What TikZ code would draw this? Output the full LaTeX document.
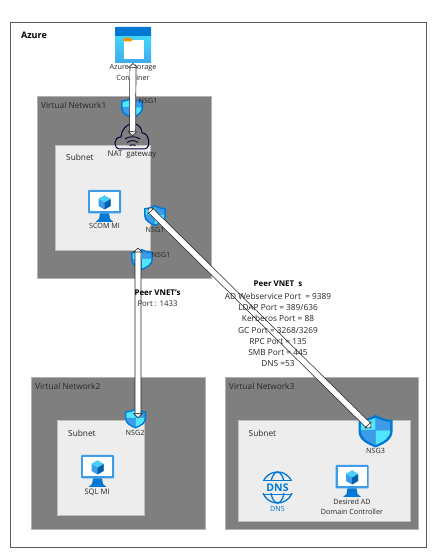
\documentclass[tikz,border=0pt]{standalone}
\usepackage{fontspec}
\setmainfont{Open Sans}
\usetikzlibrary{arrows.meta,positioning}

\definecolor{vnetgrey}{HTML}{7F7F7F}
\definecolor{subnetgrey}{HTML}{EDEDED}
\definecolor{iconblue}{HTML}{0078D4}
\definecolor{lightblue}{HTML}{50E6FF}
\definecolor{midblue}{HTML}{3D9BE8}
\definecolor{inkgrey}{HTML}{262626}

\tikzset{
  vnet/.style={draw=black!30, fill=vnetgrey, line width=.6bp},
  subnet/.style={draw=black!25, fill=subnetgrey, line width=.6bp},
  lbl/.style={font=\fontsize{7.2bp}{9.6bp}\selectfont, text=inkgrey, inner sep=0pt, align=center},
  biglbl/.style={lbl, font=\fontsize{8.3bp}{11.2bp}\selectfont},
  boldlbl/.style={lbl, font=\fontsize{7.9bp}{9bp}\selectfont\bfseries, text=black},
  iconbox/.style={inner sep=0pt, minimum width=#1, minimum height=#1},
  peerlink/.style={double=white, double distance=5.4bp, line width=.7bp, draw=black!85,
    {Triangle[open, fill=white, length=4.5bp, width=10bp, line width=.6bp]}-{Triangle[open, fill=white, length=4.5bp, width=10bp, line width=.6bp]}}
}

% shield, #1 name, #2 centre, #3 size
\newcommand{\nsgshield}[3]{
  \node (#1) at (#2) [iconbox=#3] {};
  \begin{scope}[shift={(#2)}, x=#3/2, y=#3/2]
    \fill [iconblue] (0,.92) .. controls (-.4,.7) and (-.7,.62) .. (-1,.62) -- (-1,-.05) .. controls (-1,-.55) and (-.5,-.8) .. (0,-1) .. controls (.5,-.8) and (1,-.55) .. (1,-.05) -- (1,.62) .. controls (.7,.62) and (.4,.7) .. (0,.92) -- cycle;
    \fill [lightblue] (0,.75) .. controls (-.3,.6) and (-.6,.52) .. (-.86,.5) -- (-.86,0) -- (0,0) -- cycle;
    \fill [midblue] (0,.75) .. controls (.3,.6) and (.6,.52) .. (.86,.5) -- (.86,0) -- (0,0) -- cycle;
    \fill [midblue] (-.86,0) -- (0,0) -- (0,-.85) .. controls (-.45,-.66) and (-.86,-.45) .. (-.86,0) -- cycle;
    \fill [lightblue] (.86,0) -- (0,0) -- (0,-.85) .. controls (.45,-.66) and (.86,-.45) .. (.86,0) -- cycle;
  \end{scope}
}

% monitor with cube, #1 name, #2 centre, size 33
\newcommand{\vmicon}[2]{
  \node (#1) at (#2) [iconbox=32bp] {};
  \begin{scope}[shift={(#2)}]
    \fill [midblue, rounded corners=1bp] (-16.5bp,16bp) rectangle (16.5bp,-7.5bp);
    \fill [white] (-14.5bp,14bp) rectangle (14.5bp,-5.5bp);
    \fill [iconblue] (-4.5bp,-7.5bp) -- (4.5bp,-7.5bp) -- (5.5bp,-13bp) -- (9bp,-16bp) -- (-9bp,-16bp) -- (-5.5bp,-13bp) -- cycle;
    \fill [midblue] (0,10.5bp) -- (6bp,7bp) -- (6bp,0) -- (0,-3.5bp) -- (-6bp,0) -- (-6bp,7bp) -- cycle;
    \fill [iconblue!80!black] (0,3.5bp) -- (6bp,7bp) -- (6bp,0) -- (0,-3.5bp) -- cycle;
    \fill [lightblue!70!midblue] (0,10.5bp) -- (6bp,7bp) -- (0,3.5bp) -- (-6bp,7bp) -- cycle;
  \end{scope}
}

\begin{document}
\begin{tikzpicture}[x=1bp, y=1bp]
  \useasboundingbox (0,0) rectangle (447,560);
  \fill [white] (0,0) rectangle (447,560);
%%
  \draw [black!65, line width=.8bp] (10,538) rectangle (426,13);
  \node [boldlbl, font=\fontsize{9bp}{9bp}\selectfont\bfseries] (azure) at (34,525) {Azure};
%
  \draw [vnet] (37.5,464) rectangle (211,282);
  \draw [subnet] (55,415) rectangle (150,310);
  \draw [vnet] (31,183) rectangle (205,31);
  \draw [subnet] (57.5,139.5) rectangle (144,45);
  \draw [vnet] (225,183) rectangle (418,31);
  \draw [subnet] (238,140) rectangle (410,39);
%
  \node [biglbl, anchor=west] (vnetA) at (41,455) {Virtual Network1};
  \node [biglbl, anchor=west] (vnetB) at (35,174) {Virtual Network2};
  \node [biglbl, anchor=west] (vnetC) at (229,174) {Virtual Network3};
  \node [biglbl, anchor=west] (subnetA) at (66,403) {Subnet};
  \node [biglbl, anchor=west] (subnetB) at (68,127) {Subnet};
  \node [biglbl, anchor=west] (subnetC) at (248.5,127) {Subnet};
%
  % storage
  \node (storage) at (133,515) [iconbox=36bp] {};
  \fill [top color=lightblue!85!iconblue, bottom color=midblue!80!lightblue] (115,524) rectangle (151,497);
  \fill [iconblue, rounded corners=.6bp] (115,533) rectangle (151,524);
  \fill [white] (123.5,519.5) rectangle (143.5,501);
  \fill [orange!85!yellow, rounded corners=1bp] (123.5,522) rectangle (132,518.5);
  \node [lbl] (storagelbl) at (133,492) {Azure Storage};
  \node [lbl] at (133,482) (storagelblb) {Container};
%
  % nat gateway
  \node (nat) at (132.5,424) [iconbox=30bp] {};
  \draw [draw=black!80!blue, line width=1bp] (120,411) .. controls (113,411) and (113,423) .. (121,423) .. controls (121,430) and (127,436.5) .. (133,436.5) .. controls (139,436.5) and (142,431) .. (142,427) .. controls (149,428) and (152,411) .. (144,411) -- cycle;
  \draw [black!80!blue, line width=.9bp] (125,421) .. controls (129,424) and (136,424) .. (140,421);
  \draw [black!80!blue, line width=.9bp] (127,417.5) .. controls (130,420) and (135,420) .. (138,417.5);
  \draw [black!80!blue, line width=.9bp] (129.5,414.5) .. controls (131,415.5) and (134,415.5) .. (135.5,414.5);
  \node [lbl, font=\fontsize{7.8bp}{9bp}\selectfont] (natlbl) at (132,405) {NAT\ \ gateway};
%
  \nsgshield{nsgA}{132,452.5}{22bp}
  \nsgshield{nsgB}{155,345}{22bp}
  \nsgshield{nsgC}{142,301}{22bp}
  \nsgshield{nsgD}{135.5,142}{21bp}
  \nsgshield{nsgE}{375.5,129.5}{34bp}
  \node [lbl] (nsgAlbl) at (148,459.5) {NSG1};
  \node [lbl] (nsgBlbl) at (155,330) {NSG1};
  \node [lbl] (nsgClbl) at (161,305) {NSG1};
  \node [lbl] (nsgDlbl) at (135,127) {NSG2};
  \node [lbl] (nsgElbl) at (375.5,109) {NSG3};
%
  \vmicon{scom}{104.5,354}
  \node [lbl] at (104.5,334) (scomname) {SCOM MI};
  \vmicon{sql}{97.5,89}
  \node [lbl, font=\fontsize{7.6bp}{9bp}\selectfont] (sqlname) at (97,68) {SQL MI};
  \vmicon{ad}{352,79}
  \node [lbl] (adname) at (352,53) {Desired AD\\Domain Controller};
%
  % dns
  \node (dns) at (277.5,72.5) [iconbox=33bp] {};
  \begin{scope}[iconblue, line width=1.3bp]
    \draw (dns.center) circle (15.5bp);
    \draw (dns.center) ellipse (7bp and 15.5bp);
    \draw (263.5,79.5) -- (291.5,79.5) (263.5,65.5) -- (291.5,65.5);
  \end{scope}
  \fill [subnetgrey] (261,66.5) rectangle (294,78.5);
  \node [lbl, text=iconblue, font=\fontsize{10.5bp}{10bp}\selectfont\bfseries] (dnstxt) at (277.5,72.5) {DNS};
  \node [lbl, text=iconblue] (dnslbl) at (277.5,51) {DNS};
%
  \draw [peerlink] (storage.south) -- (nat.center);
  \draw [peerlink] ([xshift=-4bp]nsgC.north) -- ([xshift=2.5bp]nsgD.center);
  \draw [peerlink] ([xshift=-7bp,yshift=7bp]nsgB.center) -- ([xshift=-4.5bp,yshift=2.5bp]nsgE.center);
%
  \node [boldlbl] (peerA) at (157.5,267) {Peer VNET's};
  \node [lbl, font=\fontsize{7.8bp}{9bp}\selectfont] (portA) at (157.5,256) {Port : 1433};
  \node [boldlbl] (peerB) at (278,276) {Peer VNET\ \ s};
  \node [biglbl, below=6bp of peerB] (ports) {AD Webservice Port\ \ = 9389\\LDAP Port = 389/636\\Kerberos Port = 88\\GC Port = 3268/3269\\RPC Port = 135\\SMB Port = 445\\DNS =53};
%
\end{tikzpicture}
\end{document}
